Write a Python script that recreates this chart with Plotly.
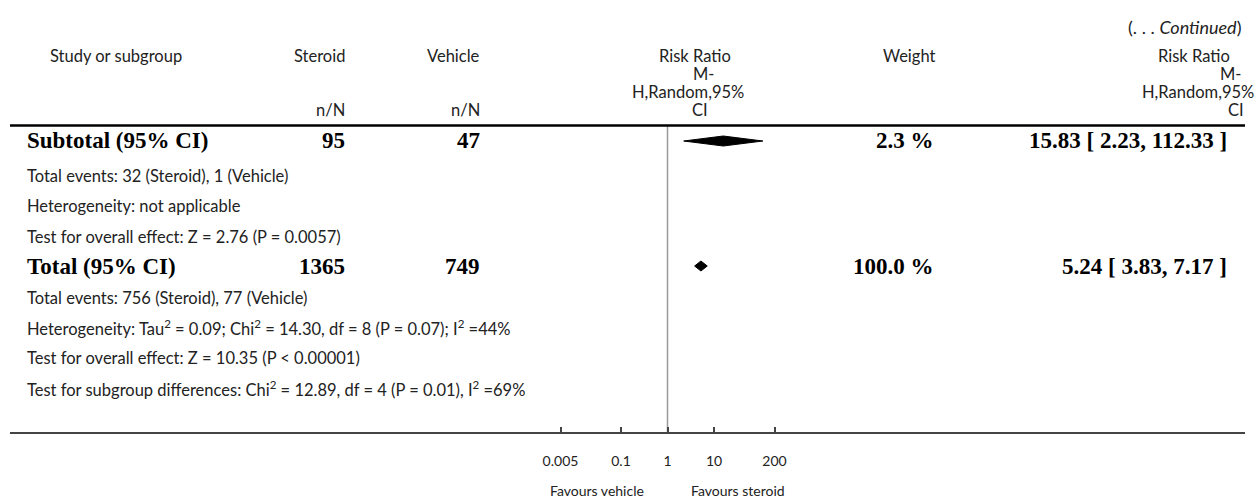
import plotly.graph_objects as go

# ---------------- data ----------------
summary_labels = ["Subtotal (95% CI)", "Total (95% CI)"]
steroid_n = ["95", "1365"]
vehicle_n = ["47", "749"]
weight_pct = [2.3, 100.0]
rr_est = [15.83, 5.24]
rr_low = [2.23, 3.83]
rr_high = [112.33, 7.17]
subtotal_notes = [
    "Total events: 32 (Steroid), 1 (Vehicle)",
    "Heterogeneity: not applicable",
    "Test for overall effect: Z = 2.76 (P = 0.0057)",
]
total_notes = [
    "Total events: 756 (Steroid), 77 (Vehicle)",
    "Heterogeneity: Tau<sup>2</sup> = 0.09; Chi<sup>2</sup> = 14.30, df = 8 (P = 0.07); I<sup>2</sup> =44%",
    "Test for overall effect: Z = 10.35 (P < 0.00001)",
    "Test for subgroup differences: Chi<sup>2</sup> = 12.89, df = 4 (P = 0.01), I<sup>2</sup> =69%",
]
rr_header_lines = ["Risk Ratio", "M-", "H,Random,95%", "CI"]
tick_vals = [0.005, 0.1, 1, 10, 200]
tick_text = ["0.005", "0.1", "1", "10", "200"]
favours_labels = ["Favours vehicle", "Favours steroid"]

# ---------------- layout geometry (pixels) ----------------
W, H = 1259, 498
AXIS_Y = 433
X_CENTER = 667.5        # pixel of RR = 1
PX_PER_DECADE = 46.5
x_range = [(0 - X_CENTER) / PX_PER_DECADE, (W - X_CENTER) / PX_PER_DECADE]

SANS = "Lato"
SERIF = "Liberation Serif"
TXT = "#222222"
SANS_SIZE = 16.5
HDR_SIZE = 16.5
BOLD_SIZE = 23

row_y = [141, 266]
notes_y = [[176, 206, 237], [298, 328, 358, 389]]
diamond_half = [5, 5]
rr_hdr_y = [56, 74, 92, 110]
rr_hdr_left_x = [695, 703, 688, 700]        # centred
rr_hdr_right_x = [1232, 1243, 1256, 1246]   # right aligned

def px(x):
    return x / W

def py(p):
    return (AXIS_Y - p) / AXIS_Y

fig = go.Figure()

fig.add_trace(go.Scatter(x=[1, 1], y=[125, AXIS_Y], mode="lines",
                         line=dict(color="#999999", width=1.5),
                         hoverinfo="skip", showlegend=False))

for i in range(len(rr_est)):
    yc = row_y[i]
    h = diamond_half[i]
    fig.add_trace(go.Scatter(
        x=[rr_low[i], rr_est[i], rr_high[i], rr_est[i], rr_low[i]],
        y=[yc, yc - h, yc, yc + h, yc],
        mode="lines", fill="toself", fillcolor="black",
        line=dict(color="black", width=1),
        hoverinfo="skip", showlegend=False))

ann = []

def add_text(x, y, text, anchor="left", font=SANS, size=SANS_SIZE, color=TXT):
    ann.append(dict(x=px(x), y=py(y), xref="paper", yref="paper", text=text,
                    showarrow=False, xanchor=anchor, yanchor="middle",
                    font=dict(family=font, size=size, color=color)))

add_text(1243, 27, "(. . . <i>Continued</i>)", "right", size=18)
add_text(48, 56, "Study or subgroup")
add_text(347, 56, "Steroid", "right")
add_text(482, 56, "Vehicle", "right")
add_text(347, 110, "n/N", "right")
add_text(482, 110, "n/N", "right")
add_text(937, 56, "Weight", "right")
for t, y, xl, xr in zip(rr_header_lines, rr_hdr_y, rr_hdr_left_x, rr_hdr_right_x):
    add_text(xl, y, t, "center", size=HDR_SIZE)
    add_text(xr, y, t, "right", size=HDR_SIZE)

for i in range(len(summary_labels)):
    y = row_y[i]
    add_text(25, y, "<b>%s</b>" % summary_labels[i], font=SERIF, size=BOLD_SIZE, color="black")
    add_text(347, y, "<b>%s</b>" % steroid_n[i], "right", font=SERIF, size=BOLD_SIZE, color="black")
    add_text(482, y, "<b>%s</b>" % vehicle_n[i], "right", font=SERIF, size=BOLD_SIZE, color="black")
    add_text(936, y, "<b>%.1f %%</b>" % weight_pct[i], "right", font=SERIF, size=BOLD_SIZE, color="black")
    add_text(1229, y, "<b>%.2f [ %.2f, %.2f ]</b>" % (rr_est[i], rr_low[i], rr_high[i]),
             "right", font=SERIF, size=BOLD_SIZE, color="black")

for t, y in zip(subtotal_notes, notes_y[0]):
    add_text(25, y, t)
for t, y in zip(total_notes, notes_y[1]):
    add_text(25, y, t)

add_text(597, 490, favours_labels[0], "center", size=14)
add_text(738, 490, favours_labels[1], "center", size=14)

shapes = [
    dict(type="line", xref="paper", yref="paper", x0=px(10), x1=px(1245), y0=py(125.5), y1=py(125.5),
         line=dict(color="black", width=2.5)),
    dict(type="line", xref="paper", yref="paper", x0=px(10), x1=px(1245), y0=py(AXIS_Y), y1=py(AXIS_Y),
         line=dict(color="#444444", width=2)),
]

fig.update_layout(
    width=W, height=H,
    margin=dict(l=0, r=0, t=0, b=H - AXIS_Y),
    paper_bgcolor="white", plot_bgcolor="white",
    annotations=ann, shapes=shapes,
    xaxis=dict(type="log", range=x_range, showgrid=False, zeroline=False, showline=False,
               tickvals=tick_vals, ticktext=tick_text, ticks="inside", ticklen=6,
               tickwidth=1.5, tickcolor="#444444", ticklabelstandoff=18,
               tickfont=dict(family=SANS, size=14, color=TXT), fixedrange=True),
    yaxis=dict(range=[AXIS_Y, 0], visible=False, fixedrange=True),
    showlegend=False,
)

fig.write_html("out.html")
